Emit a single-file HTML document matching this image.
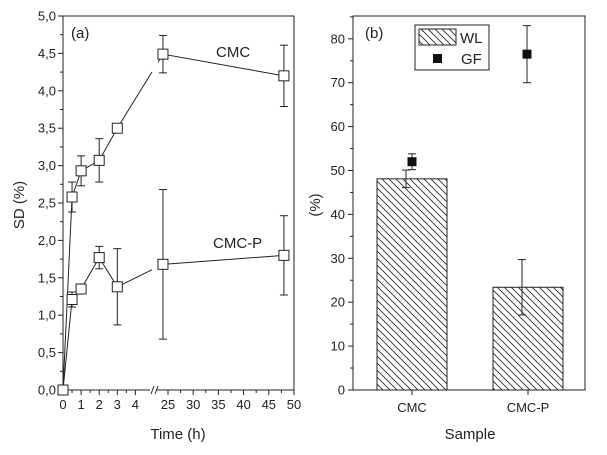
<!DOCTYPE html>
<html><head><meta charset="utf-8"><style>
body{margin:0;background:#fff}
svg text{font-family:"Liberation Sans",Arial,sans-serif;fill:#222}
</style></head><body>
<svg id="c" width="607" height="450" viewBox="0 0 607 450" xmlns="http://www.w3.org/2000/svg">
<defs><pattern id="hatch" width="7" height="7" patternUnits="userSpaceOnUse"><path d="M-1,-1 L8,8 M-8,-1 L1,8 M6,-1 L15,8" stroke="#222" stroke-width="0.8"/></pattern></defs>
</svg>
<script>
const times=[0,0.5,1,2,3,24,48];
const cmc=[0,2.58,2.93,3.07,3.5,4.49,4.2];
const cmcErr=[0,0.2,0.2,0.29,0.03,0.25,0.41];
const cmcp=[0,1.21,1.35,1.77,1.38,1.68,1.8];
const cmcpErr=[0,0.1,0.03,0.15,0.51,1.0,0.53];
const leftYTicks=["0,0","0,5","1,0","1,5","2,0","2,5","3,0","3,5","4,0","4,5","5,0"];
const leftXTicks1=[0,1,2,3,4];
const leftXTicks2=[25,30,35,40,45,50];
const samples=["CMC","CMC-P"];
const wl=[48.1,23.4];
const wlErr=[2.0,6.3];
const gf=[52,76.5];
const gfErr=[1.8,6.5];
const rightYTicks=[0,10,20,30,40,50,60,70,80];

const svg=document.getElementById('c');
const NS="http://www.w3.org/2000/svg";
function el(t,a,txt){const e=document.createElementNS(NS,t);for(const k in a)e.setAttribute(k,a[k]);if(txt!==undefined)e.textContent=txt;svg.appendChild(e);return e;}
function line(x1,y1,x2,y2,w){return el('line',{x1,y1,x2,y2,stroke:'#222','stroke-width':w||1});}

// ---- left panel
const L={x0:63,x1:294,y0:390,y1:16};
function lx(t){return t<=5? 63+t*18.1 : 168+(t-25)*5.04;}
function ly(v){return 390-v*74.8;}
let r=el('rect',{x:L.x0,y:L.y1,width:L.x1-L.x0,height:L.y0-L.y1,fill:'none',stroke:'#222'});


leftYTicks.forEach((s,i)=>{const y=ly(i*0.5);line(L.x0-5,y,L.x0,y);
 if(i<10){line(L.x0-3,ly(i*0.5+0.25),L.x0,ly(i*0.5+0.25));}
 const t=el('text',{x:L.x0-7,y:y+4.5,'text-anchor':'end','font-size':13},s);
 
 });
leftXTicks1.concat(leftXTicks2).forEach(v=>{const x=lx(v);line(x,L.y0,x,L.y0+5);
 const t=el('text',{x:x,y:L.y0+19,'text-anchor':'middle','font-size':13},String(v));
 
 });
[0.5,1.5,2.5,3.5].forEach(v=>line(lx(v),L.y0,lx(v),L.y0+3));
[27.5,32.5,37.5,42.5,47.5].forEach(v=>line(lx(v),L.y0,lx(v),L.y0+3));
el('rect',{x:150,y:L.y0-2,width:7,height:4,fill:'#fff'});
line(151,L.y0+4,154,L.y0-4);line(155,L.y0+4,158,L.y0-4);
function series(vals,errs,name){
 let d='';vals.forEach((v,i)=>{d+=(i?'L':'M')+lx(times[i])+','+ly(v);});
 const p=el('path',{d,fill:'none',stroke:'#222','stroke-width':1});
 
 
 const x3=lx(times[4]),x24=lx(times[5]);const f1=(152-x3)/(x24-x3),f2=(158-x3)/(x24-x3);
 const ya=ly(vals[4]+(vals[5]-vals[4])*f1),yb=ly(vals[4]+(vals[5]-vals[4])*f2);
 el('line',{x1:152,y1:ya,x2:158,y2:yb,stroke:'#fff','stroke-width':3});
 vals.forEach((v,i)=>{const x=lx(times[i]);
  if(errs[i]>0){line(x,ly(v-errs[i]),x,ly(v+errs[i]));line(x-4,ly(v-errs[i]),x+4,ly(v-errs[i]));line(x-4,ly(v+errs[i]),x+4,ly(v+errs[i]));}
  const m=el('rect',{x:x-5,y:ly(v)-5,width:10,height:10,fill:'#fff',stroke:'#222'});
  
  });
}
series(cmc,cmcErr,'cmc');
series(cmcp,cmcpErr,'cmc-p');
[['CMC',216,57,'cmc-series-label'],['CMC-P',213,248,'cmc-p-series-label'],['(a)',71,38,'panel-a-label']].forEach(a=>{
 const t=el('text',{x:a[1],y:a[2],'font-size':15},a[0]);
 
 });
let t=el('text',{x:178,y:439,'text-anchor':'middle','font-size':15},'Time (h)');


t=el('text',{x:0,y:0,'text-anchor':'middle','font-size':15,transform:'translate(24,205) rotate(-90)'},'SD (%)');



// ---- right panel
const R={x0:353,x1:585,y0:390,y1:16};
function ry(v){return 390-v*4.39;}
const cx=[412,528];
r=el('rect',{x:R.x0,y:R.y1,width:R.x1-R.x0,height:R.y0-R.y1,fill:'none',stroke:'#222'});


rightYTicks.forEach(v=>{const y=ry(v);line(R.x0-5,y,R.x0,y);line(R.x0-3,ry(v+5),R.x0,ry(v+5));
 const t=el('text',{x:R.x0-8,y:y+4.5,'text-anchor':'end','font-size':13},String(v));
 
 });
samples.forEach((s,i)=>{
 const b=el('rect',{x:cx[i]-35,y:ry(wl[i]),width:70,height:R.y0-ry(wl[i]),fill:'url(#hatch)',stroke:'#222'});
 
 
 const x=cx[i]-6;
 line(x,ry(wl[i]-wlErr[i]),x,ry(wl[i]+wlErr[i]));line(x-4,ry(wl[i]-wlErr[i]),x+4,ry(wl[i]-wlErr[i]));line(x-4,ry(wl[i]+wlErr[i]),x+4,ry(wl[i]+wlErr[i]));
 const gxx=i?527:412;
 line(gxx,ry(gf[i]-gfErr[i]),gxx,ry(gf[i]+gfErr[i]));line(gxx-4,ry(gf[i]-gfErr[i]),gxx+4,ry(gf[i]-gfErr[i]));line(gxx-4,ry(gf[i]+gfErr[i]),gxx+4,ry(gf[i]+gfErr[i]));
 const m=el('rect',{x:gxx-4.5,y:ry(gf[i])-4.5,width:9,height:9,fill:'#111'});
 
 
 line(cx[i],R.y0,cx[i],R.y0+5);
 const t=el('text',{x:cx[i],y:412,'text-anchor':'middle','font-size':13},s);
 
 });
const lg=el('rect',{x:415,y:25,width:74,height:45,fill:'#fff',stroke:'#222'});


el('rect',{x:419,y:29,width:37,height:16,fill:'url(#hatch)',stroke:'#222'});
t=el('text',{x:460,y:43,'font-size':15},'WL');


el('rect',{x:433,y:54,width:9,height:9,fill:'#111'});
t=el('text',{x:461,y:64,'font-size':15},'GF');


t=el('text',{x:365,y:38,'font-size':15},'(b)');


t=el('text',{x:470,y:439,'text-anchor':'middle','font-size':15},'Sample');


t=el('text',{x:0,y:0,'text-anchor':'middle','font-size':15,transform:'translate(320,205) rotate(-90)'},'(%)');


</script>
</body></html>
